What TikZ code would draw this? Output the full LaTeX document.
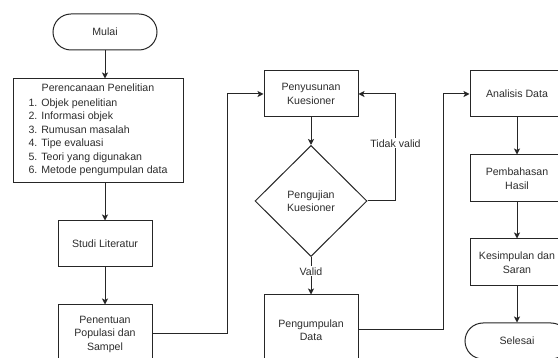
\documentclass[tikz,border=0pt]{standalone}
\usepackage{fontspec}
\setmainfont{Liberation Sans}
\usepackage{tikz}
\usetikzlibrary{arrows.meta,positioning,shapes.geometric}
\definecolor{flowline}{RGB}{38,38,38}
\definecolor{flowtext}{RGB}{45,45,45}

\begin{document}
\begin{tikzpicture}[
  x=1pt, y=-1pt,
  every node/.style={font=\fontsize{10.6}{13.5}\selectfont, text=flowtext},
  box/.style={draw=flowline, line width=1pt, fill=white, minimum width=94pt, minimum height=46pt, align=center, inner sep=2pt},
  term/.style={box, rounded corners=18pt, minimum width=104pt, minimum height=36pt},
  decision/.style={draw=flowline, line width=1pt, fill=white, diamond, minimum width=112pt, minimum height=111pt, align=center, inner sep=0pt},
  arr/.style={-{Stealth[length=6pt,width=6pt,inset=1.5pt]}, line width=1pt, color=flowline},
  lbl/.style={fill=white, inner sep=1pt}
]
  \useasboundingbox (0,0) rectangle (558,358);
  \clip (0,0) rectangle (558,358);

  % kolom 1
  \node[term] (mulai) at (105,32) {Mulai};
  \node[box, minimum width=170pt, minimum height=104pt] (rencana) at (98,131)
    {Perencanaan Penelitian\\[1pt]
     \begin{tabular}[t]{@{}l@{}}
       1. Objek penelitian\\
       2. Informasi objek\\
       3. Rumusan masalah\\
       4. Tipe evaluasi\\
       5. Teori yang digunakan\\
       6. Metode pengumpulan data
     \end{tabular}};
  \node[box] (studi) at (105,244) {Studi Literatur};
  \node[box, minimum height=58pt] (tentu) at (105,334) {Penentuan\\Populasi dan\\Sampel};

  % kolom 2
  \node[box] (susun) at (311,94) {Penyusunan\\Kuesioner};
  \node[decision] (uji) at (311,201) {Pengujian\\Kuesioner};
  \node[box, minimum height=70pt] (kumpul) at (311,330) {Pengumpulan\\Data};

  % kolom 3
  \node[box] (analisis) at (517,94) {Analisis Data};
  \node[box, minimum height=47pt] (bahas) at (517,178.5) {Pembahasan\\Hasil};
  \node[box, minimum height=47pt] (simpul) at (517,262.5) {Kesimpulan dan\\Saran};
  \node[term] (selesai) at (517,341) {Selesai};

  \draw[arr] (mulai) -- (rencana.north -| mulai);
  \draw[arr] (rencana.south -| studi) -- (studi);
  \draw[arr] (studi) -- (tentu);
  \draw[arr] (tentu.east) -- ++(75,0) |- (susun.west);

  \draw[arr] (susun) -- (uji);
  \draw[arr] (uji) -- node[lbl, pos=0.38]{Valid} (kumpul);
  \draw[arr] (uji.east) -- ++(28,0) |- node[lbl, pos=0.27]{Tidak valid} (susun.east);
  \draw[arr] (kumpul.east) -- ++(85,0) |- (analisis.west);

  \draw[arr] (analisis) -- (bahas);
  \draw[arr] (bahas) -- (simpul);
  \draw[arr] (simpul) -- (selesai);
\end{tikzpicture}
\end{document}
